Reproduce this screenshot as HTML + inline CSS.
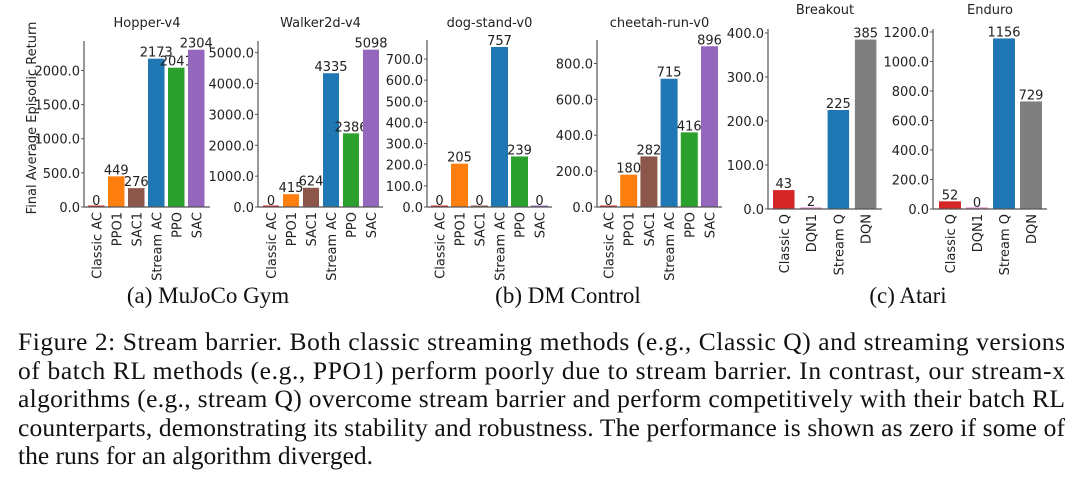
<!DOCTYPE html>
<html><head><meta charset="utf-8"><style>
html,body{margin:0;padding:0;background:#fff;}
svg{display:block;}
.tk{font-family:"DejaVu Sans","Liberation Sans",sans-serif;font-size:13px;fill:#222;}
.cap{font-family:"Liberation Serif",serif;fill:#111;}
</style></head><body>
<svg id="fig" width="1080" height="479" viewBox="0 0 1080 479" xmlns="http://www.w3.org/2000/svg">
<text class="tk" transform="translate(36,118) rotate(-90)" text-anchor="middle" font-size="14">Final Average Episodic Return</text>
<text class="cap" x="208" y="303" text-anchor="middle" font-size="23">(a) MuJoCo Gym</text>
<text class="cap" x="568" y="303" text-anchor="middle" font-size="23">(b) DM Control</text>
<text class="cap" x="908" y="303" text-anchor="middle" font-size="23">(c) Atari</text>
<g>
<text class="cap" x="18" y="350" font-size="25.5" textLength="1047" lengthAdjust="spacing">Figure 2: Stream barrier. Both classic streaming methods (e.g., Classic Q) and streaming versions</text>
<text class="cap" x="18" y="379" font-size="25.5" textLength="1047" lengthAdjust="spacing">of batch RL methods (e.g., PPO1) perform poorly due to stream barrier. In contrast, our stream-x</text>
<text class="cap" x="18" y="407" font-size="25.5" textLength="1047" lengthAdjust="spacing">algorithms (e.g., stream Q) overcome stream barrier and perform competitively with their batch RL</text>
<text class="cap" x="18" y="436" font-size="25.5" textLength="1047" lengthAdjust="spacing">counterparts, demonstrating its stability and robustness. The performance is shown as zero if some of</text>
<text class="cap" x="18" y="464" font-size="25.5">the runs for an algorithm diverged.</text>
</g>
</svg>
<script>
const acCats = ["Classic AC","PPO1","SAC1","Stream AC","PPO","SAC"];
const acColors = ["#d62728","#ff7f0e","#8c564b","#1f77b4","#2ca02c","#9467bd"];
const qCats = ["Classic Q","DQN1","Stream Q","DQN"];
const qColors = ["#d62728","#e377c2","#1f77b4","#7f7f7f"];
const hopperVals = [0,449,276,2173,2041,2304];
const walkerVals = [0,415,624,4335,2386,5098];
const dogVals = [0,205,0,757,239,0];
const cheetahVals = [0,180,282,715,416,896];
const breakoutVals = [43,2,225,385];
const enduroVals = [52,0,1156,729];
const hopperTicks = [0,500,1000,1500,2000];
const walkerTicks = [0,1000,2000,3000,4000,5000];
const dogTicks = [0,100,200,300,400,500,600,700];
const cheetahTicks = [0,200,400,600,800];
const breakoutTicks = [0,100,200,300,400];
const enduroTicks = [0,200,400,600,800,1000,1200];

const NS="http://www.w3.org/2000/svg";
const svg=document.getElementById('fig');
function mk(tag,attrs,parent){const e=document.createElementNS(NS,tag);for(const k in attrs)e.setAttribute(k,attrs[k]);(parent||svg).appendChild(e);return e;}

function panel(name,title,cats,colors,vals,ticks,ymax,ax,x1,y0,ytop,titleY,barStart,step,barW){
  const g=mk('g',{});
  
  
  const ys=v=>y0-(v/ymax)*(y0-ytop);
  const t=mk('text',{x:(ax+x1)/2,y:titleY,'text-anchor':'middle',class:'tk'},g);
  
  
  t.textContent=title;
  ticks.forEach(v=>{
    const tl=mk('text',{x:ax-4,y:ys(v)+5,'text-anchor':'end',class:'tk'},g);
    
    
    tl.textContent=v.toFixed(1);
    mk('line',{x1:ax-3,x2:ax,y1:ys(v),y2:ys(v),stroke:'#555','stroke-width':1},g);
  });
  vals.forEach((v,i)=>{
    const bx=barStart+i*step;
    const r=mk('rect',{x:bx,y:ys(v),width:barW,height:Math.max(y0-ys(v),0),fill:colors[i]},g);
    
    
    if(v<=3) mk('rect',{x:bx,y:y0-1.5,width:barW,height:1.5,fill:colors[i]},g);
    const vl=mk('text',{x:bx+barW/2,y:ys(v)-2,'text-anchor':'middle',class:'tk',
      'font-size':14},g);
    
    
    vl.textContent=v;
    const xl=mk('text',{transform:`translate(${bx+barW/2+5},${y0+5}) rotate(-90)`,'text-anchor':'end',class:'tk'},g);
    
    
    xl.textContent=cats[i];
  });
  mk('line',{x1:ax,x2:ax,y1:ytop,y2:y0,stroke:'#555','stroke-width':1.2},g);
  mk('line',{x1:ax,x2:x1,y1:y0,y2:y0,stroke:'#555','stroke-width':1.2},g);
}
panel('hopper','Hopper-v4',acCats,acColors,hopperVals,hopperTicks,2432,84,210,207,41,27,88,20,16.5);
panel('walker','Walker2d-v4',acCats,acColors,walkerVals,walkerTicks,5379,258,383,207,41,27,263,20,16);
panel('dog','dog-stand-v0',acCats,acColors,dogVals,dogTicks,790,427,552,207,40,27,431,20,17);
panel('cheetah','cheetah-run-v0',acCats,acColors,cheetahVals,cheetahTicks,931,597,722,207,40,27,600,20.2,17);
panel('breakout','Breakout',qCats,qColors,breakoutVals,breakoutTicks,409,768,882,209,29,14,773,27.3,21.5);
panel('enduro','Enduro',qCats,qColors,enduroVals,enduroTicks,1220,933,1047,209,29,14,939,27,22);
</script>
</body></html>
